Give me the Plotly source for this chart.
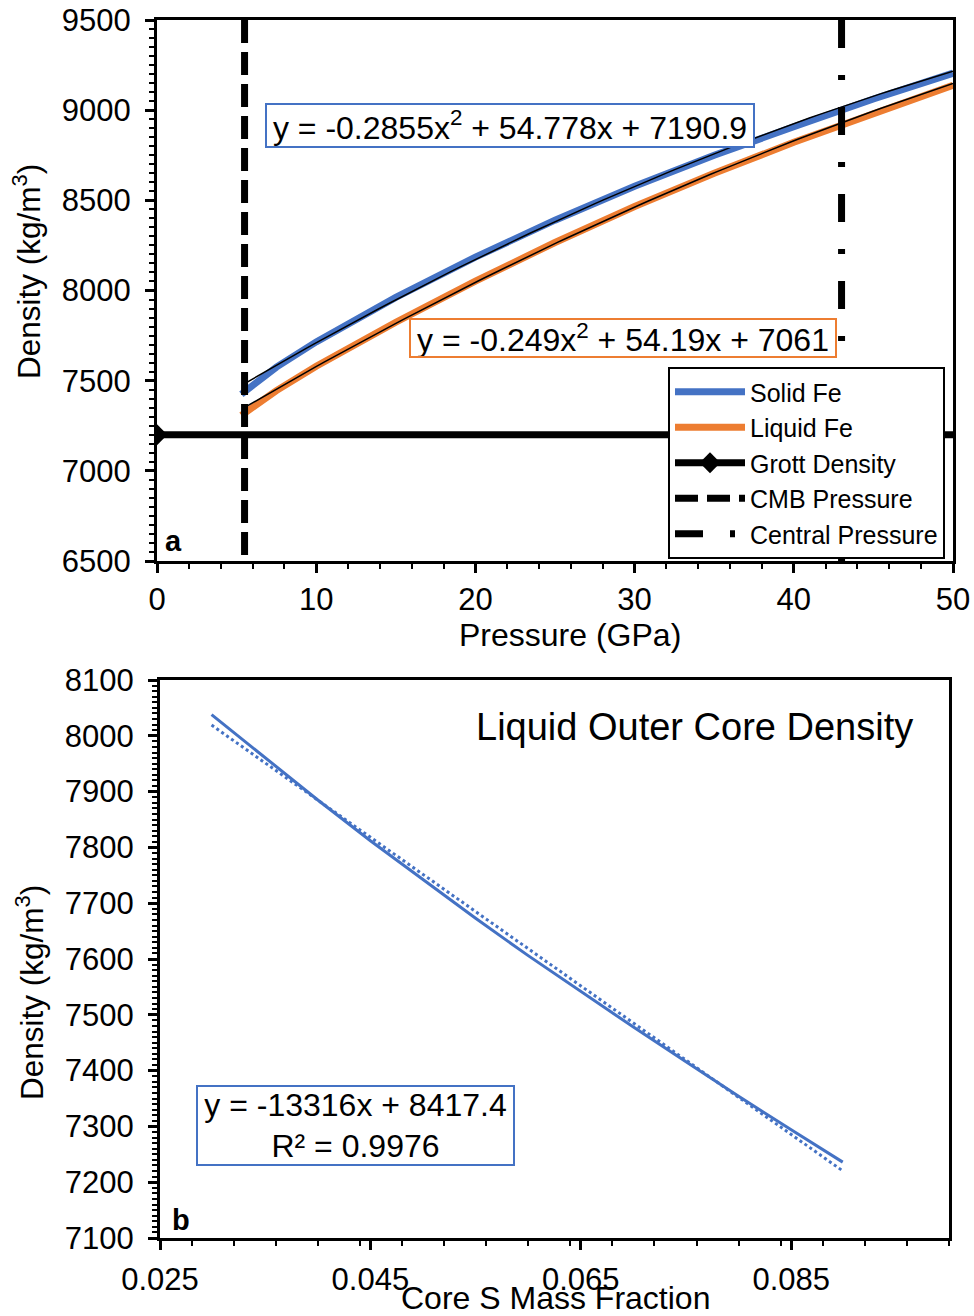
import numpy as np
import plotly.graph_objects as go

W, H = 974, 1316
FONT = "Liberation Sans, Arial, sans-serif"
BLUE = "#4472C4"
ORANGE = "#ED7D31"

# ---- panel a data ----
pressure_gpa = [5.3, 7.5, 10, 12.5, 15, 20, 25, 30, 35, 40, 45, 50]
density_solid_fe = [7425, 7575, 7715, 7842, 7962, 8185, 8390, 8578, 8750, 8908, 9062, 9205]
density_liquid_fe = [7308, 7445, 7580, 7704, 7824, 8052, 8266, 8466, 8650, 8822, 8985, 9138]
fit_solid_coeffs = [-0.2855, 54.778, 7190.9]
fit_liquid_coeffs = [-0.249, 54.19, 7061]
fit_pressure_range = [5.45, 50]
grott_pressure = [0, 50]
grott_density = [7200, 7200]
cmb_pressure = 5.5
central_pressure = 43.0
panel_a_yrange = [6500, 9500]
panel_a_xrange = [0, 50]

# ---- panel b data ----
core_s_fraction = [0.0299, 0.035, 0.040, 0.045, 0.050, 0.055, 0.060, 0.065, 0.070, 0.075, 0.080, 0.085, 0.0899]
outer_core_density = [8038, 7960, 7885, 7812, 7742, 7673, 7606, 7542, 7478, 7416, 7354, 7294, 7236]
fit_core_coeffs = [-13316, 8417.4]
panel_b_xrange = [0.025, 0.100]
panel_b_yrange = [7100, 8100]

eq_solid = "y = -0.2855x<sup>2</sup> + 54.778x + 7190.9"
eq_liquid = "y = -0.249x<sup>2</sup> + 54.19x + 7061"
eq_core = "y = -13316x + 8417.4<br>R² = 0.9976"

fig = go.Figure()

# trendline x samples
tx_a = np.linspace(fit_pressure_range[0], fit_pressure_range[1], 80)
tx_b = np.linspace(core_s_fraction[0], core_s_fraction[-1], 40)

fig.add_trace(go.Scatter(x=pressure_gpa, y=density_solid_fe, mode="lines", name="Solid Fe",
                         line=dict(color=BLUE, width=7), xaxis="x", yaxis="y"))
fig.add_trace(go.Scatter(x=pressure_gpa, y=density_liquid_fe, mode="lines", name="Liquid Fe",
                         line=dict(color=ORANGE, width=7), xaxis="x", yaxis="y"))
fig.add_trace(go.Scatter(x=tx_a, y=np.polyval(fit_solid_coeffs, tx_a), mode="lines", showlegend=False,
                         line=dict(color="black", width=1.5), xaxis="x", yaxis="y", hoverinfo="skip"))
fig.add_trace(go.Scatter(x=tx_a, y=np.polyval(fit_liquid_coeffs, tx_a), mode="lines", showlegend=False,
                         line=dict(color="black", width=1.5), xaxis="x", yaxis="y", hoverinfo="skip"))
fig.add_trace(go.Scatter(x=grott_pressure, y=grott_density, mode="lines+markers", name="Grott Density",
                         line=dict(color="black", width=7),
                         marker=dict(symbol="diamond", size=16, color=["black", "rgba(0,0,0,0)"]),
                         xaxis="x", yaxis="y"))
fig.add_trace(go.Scatter(x=[cmb_pressure, cmb_pressure], y=[panel_a_yrange[1], panel_a_yrange[0]],
                         mode="lines", name="CMB Pressure",
                         line=dict(color="black", width=7, dash="23px,9px"), xaxis="x", yaxis="y"))
fig.add_trace(go.Scatter(x=[central_pressure, central_pressure], y=[panel_a_yrange[1], panel_a_yrange[0]],
                         mode="lines", name="Central Pressure",
                         line=dict(color="black", width=7, dash="28px,27px,5px,27px"), xaxis="x", yaxis="y"))

fig.add_trace(go.Scatter(x=core_s_fraction, y=outer_core_density, mode="lines", showlegend=False,
                         line=dict(color=BLUE, width=3), xaxis="x2", yaxis="y2"))
fig.add_trace(go.Scatter(x=tx_b, y=np.polyval(fit_core_coeffs, tx_b), mode="lines", showlegend=False,
                         line=dict(color=BLUE, width=3, dash="dot"), xaxis="x2", yaxis="y2"))

tickfont = dict(family=FONT, size=31, color="black")
common = dict(showline=True, linecolor="black", linewidth=3, mirror=True, showgrid=False, zeroline=False,
              ticks="outside", ticklen=9, tickwidth=3, tickcolor="black", tickfont=tickfont,
              automargin=False)
minor_style = dict(ticks="outside", ticklen=5, tickwidth=2, tickcolor="black")

def px_x(p):
    return p / W

def px_y(p):
    return 1 - p / H

fig.update_layout(
    width=W, height=H, margin=dict(l=0, r=0, t=0, b=0, autoexpand=False),
    paper_bgcolor="white", plot_bgcolor="white",
    font=dict(family=FONT, color="black"),
    xaxis=dict(domain=[px_x(157), px_x(953)], range=panel_a_xrange, anchor="y", dtick=10, tick0=0,
               ticklabelstandoff=0, minor=dict(dtick=2, **minor_style), **common),
    yaxis=dict(domain=[px_y(561), px_y(20)], range=panel_a_yrange, anchor="x", dtick=500, tick0=6500,
               ticklabelstandoff=8, minor=dict(dtick=50, **minor_style), **common),
    xaxis2=dict(domain=[px_x(160), px_x(949)], range=panel_b_xrange, anchor="y2", dtick=0.02, tick0=0.025,
                tickformat=".3f", ticklabelstandoff=3, minor=dict(dtick=0.004, **minor_style), **common),
    yaxis2=dict(domain=[px_y(1238), px_y(680)], range=panel_b_yrange, anchor="x2", dtick=100, tick0=7100,
                ticklabelstandoff=8, minor=dict(dtick=10, **minor_style), **common),
    legend=dict(x=px_x(668), y=px_y(367), xanchor="left", yanchor="top", bgcolor="white",
                bordercolor="black", borderwidth=2, font=dict(family=FONT, size=25, color="black"),
                itemwidth=70, tracegroupgap=0),
    showlegend=True,
)

ann = []
def text(x, y, s, size, **kw):
    d = dict(x=px_x(x), y=px_y(y), xref="paper", yref="paper", text=s, showarrow=False,
             font=dict(family=FONT, size=size, color="black"), xanchor="center", yanchor="middle")
    d.update(kw)
    ann.append(d)

# equation boxes
text(510, 125.5, eq_solid, 32, bordercolor=BLUE, borderwidth=2, borderpad=0, bgcolor="white",
     width=486, height=41)
text(623, 338, eq_liquid, 32, bordercolor=ORANGE, borderwidth=2, borderpad=0, bgcolor="white",
     width=424, height=36)
text(355.5, 1125.5, eq_core, 32, bordercolor=BLUE, borderwidth=2, borderpad=0, bgcolor="white",
     width=315, height=77)

# axis titles
text(570, 635, "Pressure (GPa)", 32)
text(27, 272, "Density (kg/m<sup>3</sup>)", 31.5, textangle=-90)
text(30, 993, "Density (kg/m<sup>3</sup>)", 31.5, textangle=-90)
text(555, 1298, "Core S Mass Fraction", 32)
text(694, 727, "Liquid Outer Core Density", 38)

# panel labels
text(173, 541, "<b>a</b>", 29)
text(181, 1220, "<b>b</b>", 29)

fig.update_layout(annotations=ann)
fig.write_html("out.html")
